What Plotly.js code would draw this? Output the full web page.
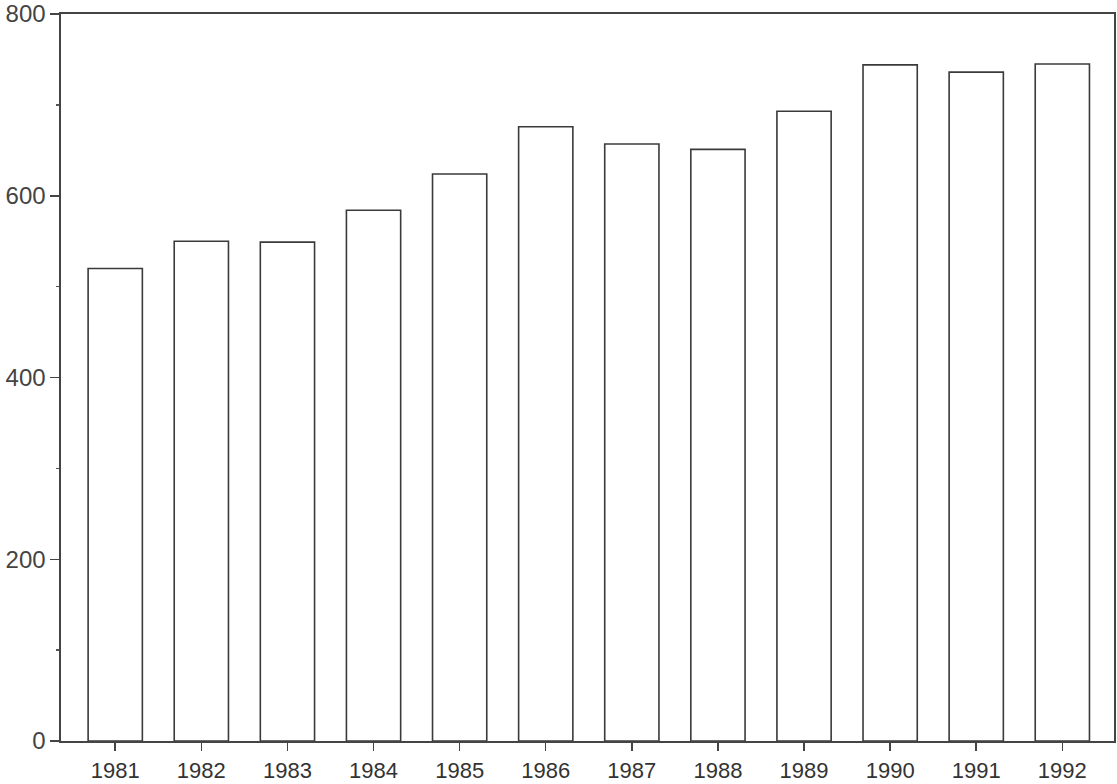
<!DOCTYPE html>
<html>
<head>
<meta charset="utf-8">
<script src="https://cdn.plot.ly/plotly-3.0.1.min.js"></script>
<style>html,body{margin:0;padding:0;background:#fff;}#chart{width:1117px;height:784px;}</style>
</head>
<body>
<div id="chart"></div>
<script>
const years = [1981, 1982, 1983, 1984, 1985, 1986, 1987, 1988, 1989, 1990, 1991, 1992];
const values = [520, 550, 549, 584, 624, 676, 657, 651, 693, 744, 736, 745];
const yTicks = [0, 200, 400, 600, 800];
const yMinorTicks = [100, 300, 500, 700];

const trace = {
  type: 'bar',
  x: years,
  y: values,
  width: 0.63,
  marker: {color: '#ffffff', line: {color: '#3a3a3a', width: 1.6}},
  hoverinfo: 'x+y'
};

const layout = {
  width: 1117,
  height: 784,
  margin: {l: 61, r: 3, t: 14, b: 43},
  paper_bgcolor: '#ffffff',
  plot_bgcolor: '#ffffff',
  showlegend: false,
  font: {family: '"Liberation Sans", Arial, sans-serif', color: '#333333'},
  xaxis: {
    type: 'linear',
    range: [1980.37, 1992.6],
    tickvals: years,
    ticktext: years.map(String),
    ticks: 'outside',
    ticklen: 8,
    tickwidth: 1.5,
    tickcolor: '#444444',
    ticklabelstandoff: 1,
    showgrid: false,
    zeroline: false,
    showline: true,
    linecolor: '#444444',
    linewidth: 1.6,
    mirror: true,
    tickfont: {size: 22, color: '#333333'}
  },
  yaxis: {
    range: [0, 800],
    tickvals: yTicks,
    ticks: 'outside',
    ticklen: 9,
    tickwidth: 1.5,
    tickcolor: '#444444',
    ticklabeloverflow: 'allow',
    minor: {tickvals: yMinorTicks, ticks: 'outside', ticklen: 3, tickwidth: 1.5, tickcolor: '#555555', showgrid: false},
    showgrid: false,
    zeroline: false,
    showline: true,
    linecolor: '#444444',
    linewidth: 1.6,
    mirror: true,
    tickfont: {size: 24, color: '#444444'}
  }
};

Plotly.newPlot('chart', [trace], layout, {displayModeBar: false, staticPlot: true});
</script>
</body>
</html>
